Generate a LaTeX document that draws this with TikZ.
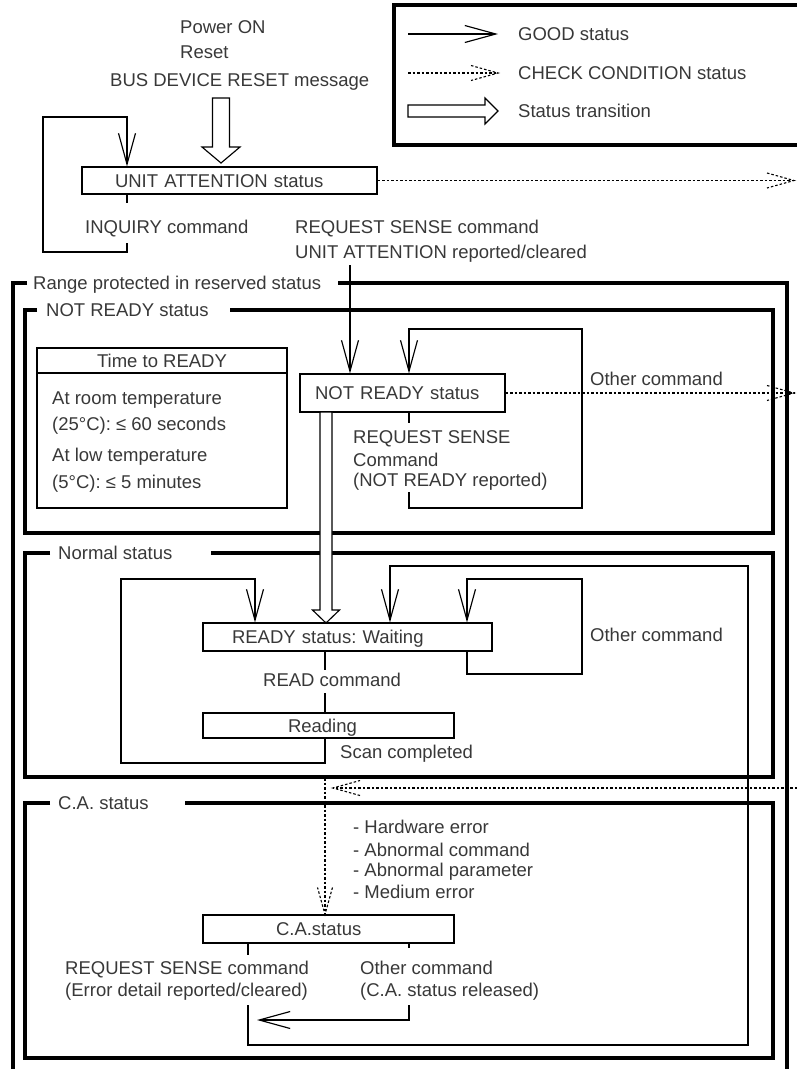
\documentclass[tikz,border=0pt]{standalone}
\usepackage{fontspec}
\setmainfont{Liberation Sans}
\usetikzlibrary{arrows.meta}
\frenchspacing
\begin{document}
\begin{tikzpicture}[x=1pt,y=-1pt,
  every node/.style={font=\fontsize{18.5}{21.5}\selectfont, text=black!78, inner sep=0pt},
  thinln/.style={line width=1.15pt},
  ccline/.style={line width=1.1pt, dash pattern=on 2.5pt off 2pt},
  frame/.style={line width=4pt},
  good/.style={thinln, -{Straight Barb[length=31pt,width=17pt]}},
  box/.style={draw, thinln, align=left, inner ysep=0pt, text height=13.4pt, text depth=0pt},
  lbl/.style={anchor=base west},
  cchead/.pic={\draw[ccline] (-27,-7.5) -- (0,0) -- (-27,7.5);},
  hollow/.style={thinln, fill=white, line join=miter}
]
\useasboundingbox (0,0) rectangle (797,1069);

% ---------- legend ----------
\draw[frame] (394,5) rectangle (815,145);
\coordinate (lg1) at (408,34); \coordinate (lg1e) at (498,34);
\draw[good] (lg1) -- (lg1e);
\node[lbl] (tgood) at (518,40.5) {GOOD status};
\coordinate (lg2) at (408,73); \coordinate (lg2e) at (498,73);
\draw[ccline] (lg2) -- (lg2e); \pic at (lg2e) {cchead};
\node[lbl] (tcc) at (518,79.5) {CHECK CONDITION status};
\draw[hollow] (408,105) -- (485,105) -- (485,98) -- (498,111) -- (485,124) -- (485,117) -- (408,117) -- cycle;
\node[lbl] (ttrans) at (518,117.5) {Status transition};

% ---------- top ----------
\node[lbl] (pon) at (180,33.5) {Power ON};
\node[lbl] (rst) at (180,58.5) {Reset};
\node[lbl] (bdr) at (110,86.5) {BUS DEVICE RESET message};
\draw[hollow] (212.5,98) -- (229.5,98) -- (229.5,147) -- (240,147) -- (221,163) -- (202,147) -- (212.5,147) -- cycle;

\node[box, text width=229pt, inner xsep=33pt, minimum height=27pt] (ua) at (229.5,180.5) {UNIT ATTENTION status};
\coordinate (ccr1) at (794,180.5);
\draw[ccline] (ua.east) -- (ccr1); \pic at (ccr1) {cchead};

\coordinate (iq) at (127,0);
\draw[thinln] (ua.south -| iq) -- (127,203);
\draw[good] (127,243) -- (127,252) -- (43,252) -- (43,117) -- (127,117) -- (ua.north -| iq);
\node[lbl] (inq) at (85,233.5) {INQUIRY command};
\node[lbl] (rs1) at (295,233.5) {REQUEST SENSE command};
\node[lbl] (rs2) at (295,258.5) {UNIT ATTENTION reported/cleared};

% ---------- range frame ----------
\draw[frame] (27,283) -- (13,283) -- (13,1080);
\draw[frame] (338,283) -- (787,283) -- (787,1080);
\node[lbl] (trng) at (33,289.5) {Range protected in reserved status};

% ---------- NOT READY ----------
\draw[frame] (37,310) -- (25,310) -- (25,533) -- (773,533) -- (773,310) -- (230,310);
\node[lbl] (tnrf) at (46,316.5) {NOT READY status};

\draw[thinln] (37,348) rectangle (287,508);
\draw[thinln] (37,373) -- (287,373);
\node (ttime) at (162,361) {Time to READY};
\node[lbl] (tm1) at (52,404.5) {At room temperature};
\node[lbl] (tm2) at (52,430.5) {(25°C): ≤ 60 seconds};
\node[lbl] (tm3) at (52,461.5) {At low temperature};
\node[lbl] (tm4) at (52,488.5) {(5°C): ≤ 5 minutes};

\node[box, text width=175pt, inner xsep=15pt, minimum height=38pt] (nr) at (402.5,393) {NOT READY status};
\coordinate (rsf) at (350,265);
\draw[good] (rsf) -- (rsf |- nr.north);

\coordinate (nrl) at (409,0);
\draw[thinln] (nr.south -| nrl) -- (409,423);
\draw[good] (409,492) -- (409,508) -- (582,508) -- (582,329) -- (409,329) -- (nr.north -| nrl);
\node[lbl] (nrs1) at (353,443.5) {REQUEST SENSE};
\node[lbl] (nrs2) at (353,466.5) {Command};
\node[lbl] (nrs3) at (353,486.5) {(NOT READY reported)};

\coordinate (ccr2) at (794,393);
\draw[ccline] (nr.east) -- (ccr2); \pic at (ccr2) {cchead};
\node[lbl] (oth1) at (590,385.5) {Other command};

% ---------- Normal ----------
\draw[frame] (50,553) -- (25,553) -- (25,777) -- (773,777) -- (773,553) -- (211,553);
\node[lbl] (tnorm) at (58,559.5) {Normal status};

\node[box, text width=231pt, inner xsep=29pt, minimum height=28pt] (rdy) at (347.5,637) {READY status: Waiting};
\node[box, text width=81pt, inner xsep=85pt, minimum height=25pt] (rdg) at (328.5,725.5) {Reading};

\draw[hollow] (320,412) -- (332,412) -- (332,610) -- (339.5,610) -- (326,623) -- (312.5,610) -- (320,610) -- cycle;

\coordinate (lsm) at (467,0);
\draw[good] (rdy.south -| lsm) -- (467,674) -- (582,674) -- (582,579) -- (467,579) -- (rdy.north -| lsm);
\node[lbl] (oth2) at (590,641.5) {Other command};

\coordinate (lrd) at (325,0); \coordinate (llf) at (255,0);
\draw[good] (rdg.south -| lrd) -- (325,763) -- (121,763) -- (121,579) -- (255,579) -- (rdy.north -| llf);
\draw[thinln] (rdy.south -| lrd) -- (325,670);
\draw[thinln] (325,693) -- (rdg.north -| lrd);
\node[lbl] (rdc) at (263,686.5) {READ command};
\node[lbl] (scn) at (340,758.5) {Scan completed};

% ---------- C.A. ----------
\draw[frame] (50,803) -- (25,803) -- (25,1058) -- (773,1058) -- (773,803) -- (185,803);
\node[lbl] (tcaf) at (58,809.5) {C.A. status};

\node[box, text width=105pt, inner xsep=73pt, minimum height=28pt] (ca) at (328.5,929) {C.A.status};

\coordinate (cdv) at (325,778);
\draw[ccline] (cdv) -- (ca.north -| cdv); \pic[rotate=-90] at (ca.north -| cdv) {cchead};
\coordinate (cdh0) at (797,788); \coordinate (cdh1) at (333,788);
\draw[ccline] (cdh0) -- (cdh1); \pic[rotate=180] at (cdh1) {cchead};

\node[lbl] (er1) at (353,833.5) {- Hardware error};
\node[lbl] (er2) at (353,856.5) {- Abnormal command};
\node[lbl] (er3) at (353,876.5) {- Abnormal parameter};
\node[lbl] (er4) at (353,898.5) {- Medium error};

\coordinate (lbig) at (390,0); \coordinate (crs) at (248,0); \coordinate (coth) at (409,0);
\draw[thinln] (ca.south -| crs) -- (248,955);
\draw[good] (248,1005) -- (248,1045) -- (748,1045) -- (748,566) -- (390,566) -- (rdy.north -| lbig);
\draw[thinln] (ca.south -| coth) -- (409,948);
\draw[good] (409,1005) -- (409,1020) -- (257,1020);

\node[lbl] (crq1) at (65,974.5) {REQUEST SENSE command};
\node[lbl] (crq2) at (65,996.5) {(Error detail reported/cleared)};
\node[lbl] (cot1) at (360,974.5) {Other command};
\node[lbl] (cot2) at (360,996.5) {(C.A. status released)};
\end{tikzpicture}
\end{document}
